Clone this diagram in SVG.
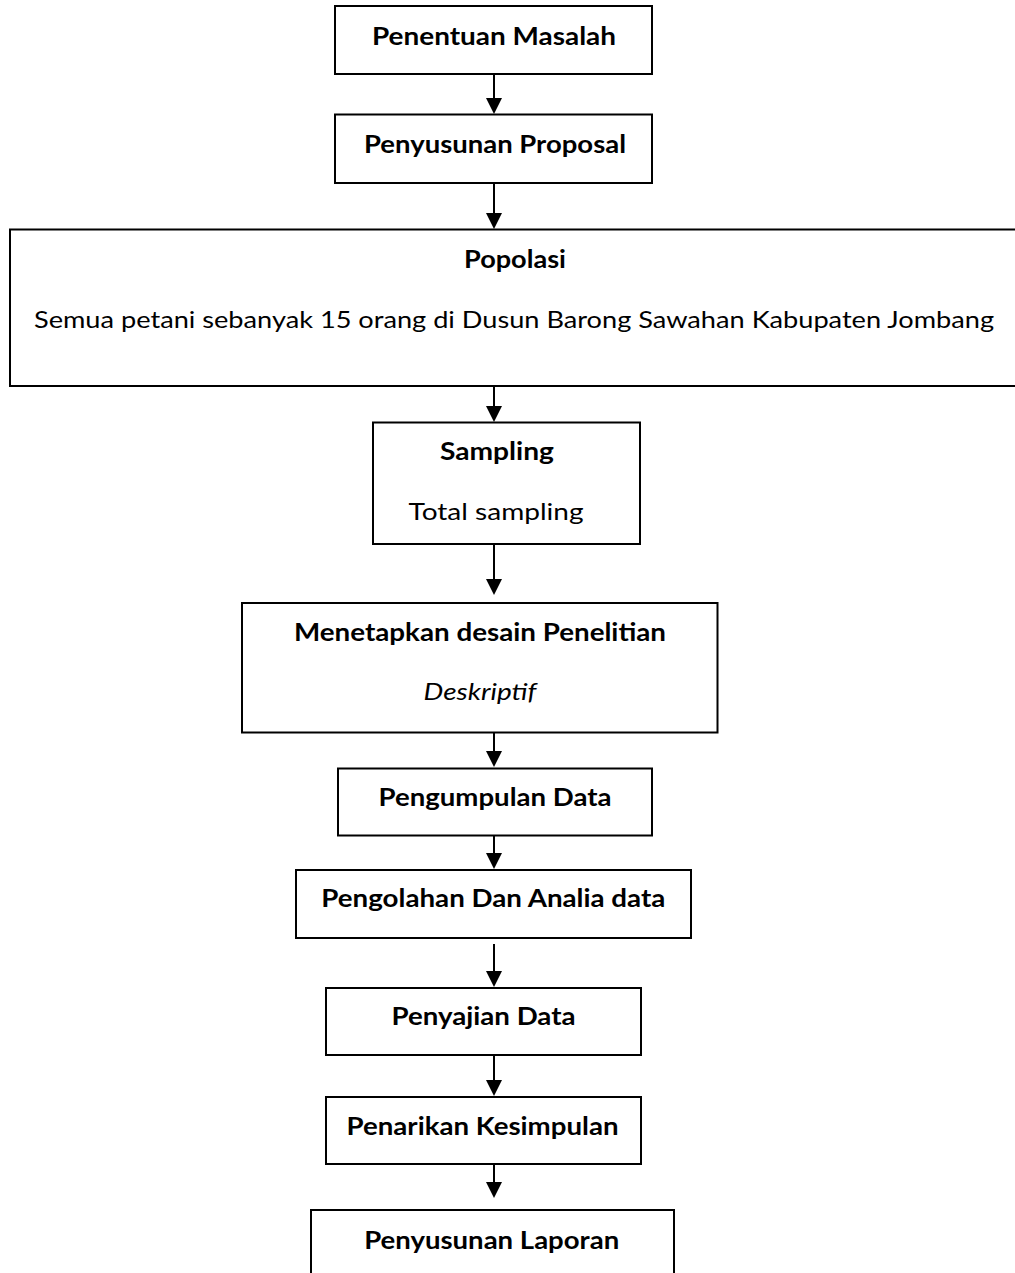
<svg xmlns="http://www.w3.org/2000/svg" width="1015" height="1273" viewBox="0 0 1015 1273">
<style>
  .box { fill: #ffffff; stroke: #000000; stroke-width: 2; }
  .t { font-family: Lato, "Open Sans", "Liberation Sans", sans-serif; font-size: 24px; fill: #000000; text-anchor: middle; }
  .b { font-weight: bold; }
  .i { font-style: italic; }
  .conn { stroke: #000000; stroke-width: 2; fill: none; marker-end: url(#arrow); }
</style>
<defs>
  <marker id="arrow" markerUnits="userSpaceOnUse" markerWidth="16" markerHeight="16" viewBox="0 0 16 16" refX="8" refY="8" orient="auto">
    <path d="M0,0 L16,8 L0,16 Z" fill="#000000"/>
  </marker>
</defs>
<rect width="1015" height="1273" fill="#ffffff"/>

<g id="connectors">
  <line class="conn" x1="494" y1="75" x2="494" y2="106"/>
  <line class="conn" x1="494" y1="184" x2="494" y2="221"/>
  <line class="conn" x1="494" y1="387" x2="494" y2="414"/>
  <line class="conn" x1="494" y1="545" x2="494" y2="587"/>
  <line class="conn" x1="494" y1="733" x2="494" y2="759"/>
  <line class="conn" x1="494" y1="836" x2="494" y2="861"/>
  <line class="conn" x1="494" y1="944" x2="494" y2="979"/>
  <line class="conn" x1="494" y1="1056" x2="494" y2="1088"/>
  <line class="conn" x1="494" y1="1165" x2="494" y2="1190"/>
</g>

<g id="node-penentuan-masalah">
  <rect class="box" x="335" y="6" width="317" height="68"/>
  <text class="t b" x="494" y="45" textLength="244" lengthAdjust="spacingAndGlyphs">Penentuan Masalah</text>
</g>

<g id="node-penyusunan-proposal">
  <rect class="box" x="335" y="114.5" width="317" height="68.5"/>
  <text class="t b" x="495" y="153" textLength="262" lengthAdjust="spacingAndGlyphs">Penyusunan Proposal</text>
</g>

<g id="node-popolasi">
  <rect class="box" x="10" y="229.5" width="1020" height="156.5"/>
  <text class="t b" x="515" y="268" textLength="102" lengthAdjust="spacingAndGlyphs">Popolasi</text>
  <text class="t" x="514" y="328" textLength="960" lengthAdjust="spacingAndGlyphs">Semua petani sebanyak 15 orang di Dusun Barong Sawahan Kabupaten Jombang</text>
</g>

<g id="node-sampling">
  <rect class="box" x="373" y="422.5" width="267" height="121.5"/>
  <text class="t b" x="497" y="460" textLength="114" lengthAdjust="spacingAndGlyphs">Sampling</text>
  <text class="t" x="496" y="520" textLength="175" lengthAdjust="spacingAndGlyphs">Total sampling</text>
</g>

<g id="node-desain">
  <rect class="box" x="242" y="603" width="475.5" height="129.5"/>
  <text class="t b" x="480" y="641" textLength="372" lengthAdjust="spacingAndGlyphs">Menetapkan desain Penelitian</text>
  <text class="t i" x="480" y="700" textLength="113" lengthAdjust="spacingAndGlyphs">Deskriptif</text>
</g>

<g id="node-pengumpulan-data">
  <rect class="box" x="338" y="768.5" width="314" height="67"/>
  <text class="t b" x="495" y="806" textLength="233" lengthAdjust="spacingAndGlyphs">Pengumpulan Data</text>
</g>

<g id="node-pengolahan">
  <rect class="box" x="296" y="870" width="395" height="68"/>
  <text class="t b" x="493.3" y="907" textLength="344" lengthAdjust="spacingAndGlyphs">Pengolahan Dan Analia data</text>
</g>

<g id="node-penyajian-data">
  <rect class="box" x="326" y="988" width="315" height="67"/>
  <text class="t b" x="483.5" y="1025" textLength="184" lengthAdjust="spacingAndGlyphs">Penyajian Data</text>
</g>

<g id="node-penarikan-kesimpulan">
  <rect class="box" x="326" y="1097" width="315" height="67"/>
  <text class="t b" x="482.5" y="1135" textLength="272" lengthAdjust="spacingAndGlyphs">Penarikan Kesimpulan</text>
</g>

<g id="node-penyusunan-laporan">
  <rect class="box" x="311" y="1210" width="363" height="80"/>
  <text class="t b" x="491.7" y="1249" textLength="255" lengthAdjust="spacingAndGlyphs">Penyusunan Laporan</text>
</g>
</svg>
